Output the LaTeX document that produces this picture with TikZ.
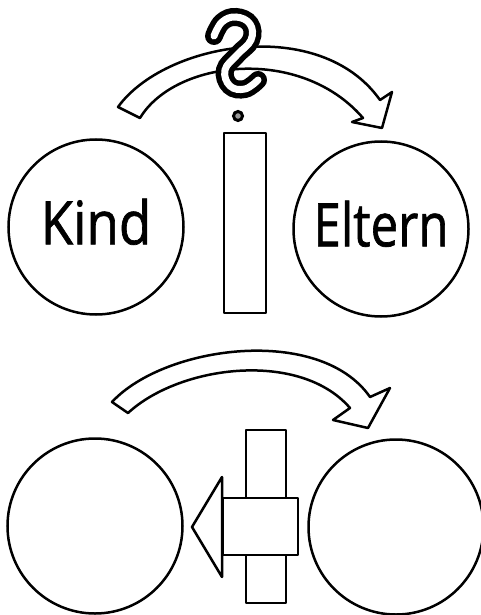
\documentclass[tikz,border=0pt]{standalone}
\usepackage{fontspec}
\usepackage{tikz}
\usetikzlibrary{positioning}
\newfontfamily\handfont[FakeBold=1.2]{Open Sans}
\tikzset{
  ring/.style={circle,draw=black,line width=2.5pt,minimum size=175pt,inner sep=0pt,font=\handfont\fontsize{60}{60}\selectfont},
  blk/.style={draw=black,fill=white,line width=2.5pt,line join=round},
  band/.style={draw=black,fill=white,line width=2.5pt,line join=round},
  qo/.style={draw=black,line width=18pt,line cap=round},
  qi/.style={draw=white,line width=7pt,line cap=round},
}
\begin{document}
\begin{tikzpicture}[x=1pt,y=-1pt]
\useasboundingbox (0,0) rectangle (481,615);
% ---- top: child and parents, blocked
\node[ring] (kind) at (96,227) {\raisebox{11pt}{\scalebox{0.88}[1]{Kind}}};
\node[ring] (eltern) at (381,229) {\raisebox{11pt}{\scalebox{0.82}[1]{Eltern}}};
\draw[blk] (224,133) rectangle (266,313);
\draw[band] (118,107) .. controls (165,42) and (320,15) .. (380,100)
  -- (392,92) -- (382,128) -- (352,122) -- (363,118)
  .. controls (300,45) and (175,60) .. (140,118) -- cycle;
\draw[qo] plot[smooth,tension=.7] coordinates
  {(214,36) (222,22) (236,17) (250,24) (251,40) (237,55) (225,70) (230,86) (245,89) (258,80)};
\draw[qi] plot[smooth,tension=.7] coordinates
  {(214,36) (222,22) (236,17) (250,24) (251,40) (237,55) (225,70) (230,86) (245,89) (258,80)};
\draw[line width=3pt,fill=black!40] (238,116) circle (4.5);
% ---- bottom: parents push back
\node[ring] (kind2) at (95,526) {};
\node[ring] (eltern2) at (396,527) {};
\draw[band] (112,402) .. controls (165,345) and (320,325) .. (370,397)
  -- (390,388) -- (368,428) -- (333,420) -- (350,408)
  .. controls (300,350) and (180,365) .. (128,413) -- cycle;
\draw[blk] (246,430) rectangle (286,603);
\draw[blk] (223,498) rectangle (298,555);
\draw[blk] (222,477) -- (192,527) -- (222,577) -- cycle;
\end{tikzpicture}
\end{document}
